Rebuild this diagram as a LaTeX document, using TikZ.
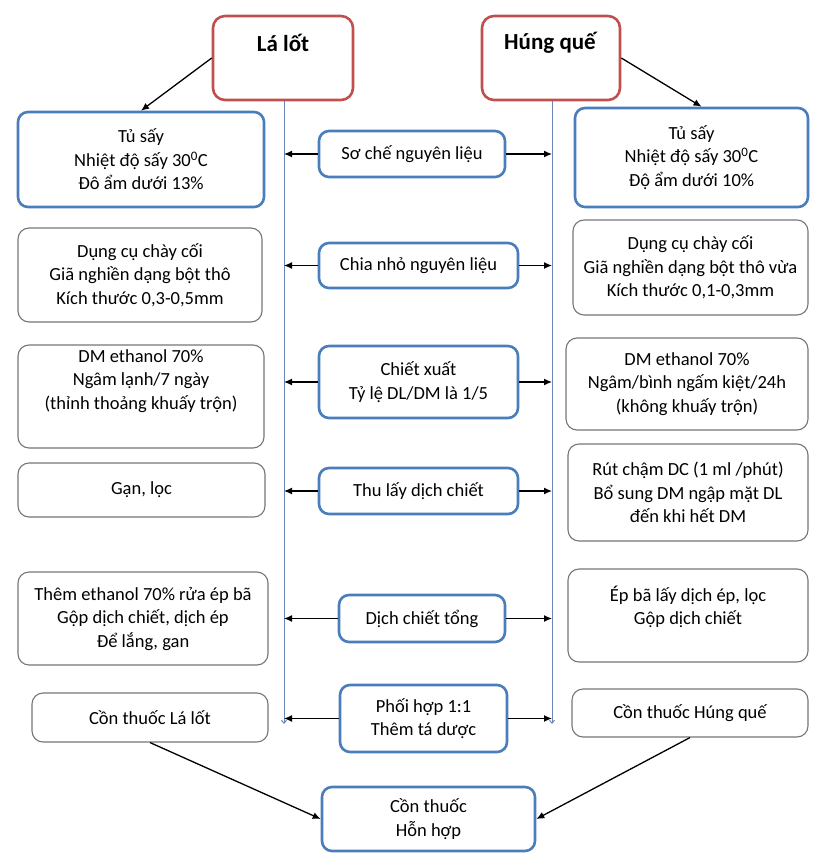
\documentclass[tikz,border=0pt]{standalone}
\usepackage{fontspec}
\setmainfont{Carlito}
\usetikzlibrary{arrows.meta}
\definecolor{redb}{RGB}{192,80,77}
\definecolor{blueb}{RGB}{74,126,187}
\definecolor{greyb}{RGB}{118,118,118}
\definecolor{vline}{RGB}{105,135,182}
\newcommand\bx[7]{\node[#1, minimum width={#5-#3}, minimum height={#6-#4}] (#2) at ({(#3+#5)/2},{(#4+#6)/2}) {#7};}
\begin{document}
\begin{tikzpicture}[x=1pt,y=-1pt,
  every node/.style={font=\fontsize{18.5}{23.5}\selectfont, align=center, inner sep=0pt},
  titletext/.style={font=\fontsize{23}{27}\selectfont\bfseries},
  tbox/.style={draw=redb, line width=2.6pt, rounded corners=12pt, fill=white},
  bbox/.style={draw=blueb, line width=2.6pt, rounded corners=10pt, fill=white},
  gbox/.style={draw=greyb, line width=1.1pt, rounded corners=11pt, fill=white},
  arr/.style={-{Latex[length=8pt,width=7pt]}, line width=1.3pt, black},
  vl/.style={draw=vline, line width=1pt, -{Straight Barb[length=3pt,width=5pt]}},
]
\useasboundingbox (0,0) rectangle (813,853);

% title boxes
\bx{tbox}{lalot}{213}{16}{353}{100}{}
\bx{tbox}{hung}{482}{16}{620}{100}{}
\node[titletext] (lalott) at (283,43) {Lá lốt};
\node[titletext] (hungt) at (550,43) {Húng quế};

\coordinate (vLend) at (284,724);
\coordinate (vRend) at (552,724);
\draw[vl] (lalot.south -| vLend) -- (vLend);
\draw[vl] (hung.south -| vRend) -- (vRend);

% row 1
\bx{bbox}{L1}{18}{112}{264}{207}{Tủ sấy\\Nhiệt độ sấy 30\textsuperscript{0}C\\Đô ẩm dưới 13\%}
\bx{bbox}{C1}{319}{131}{505}{177}{Sơ chế nguyên liệu}
\bx{bbox}{R1}{575}{108}{808}{207}{Tủ sấy\\Nhiệt độ sấy 30\textsuperscript{0}C\\Độ ẩm dưới 10\%}
% row 2
\bx{gbox}{L2}{18}{228}{262}{322}{Dụng cụ chày cối\\Giã nghiền dạng bột thô\\Kích thước 0,3-0,5mm}
\bx{bbox}{C2}{319}{243}{518}{288}{Chia nhỏ nguyên liệu}
\bx{gbox}{R2}{573}{220}{808}{315}{Dụng cụ chày cối\\Giã nghiền dạng bột thô vừa\\Kích thước 0,1-0,3mm}
% row 3
\bx{gbox}{L3}{18}{345}{264}{448}{}
\node (L3t) at (141,381) {DM ethanol 70\%\\Ngâm lạnh/7 ngày\\(thỉnh thoảng khuấy trộn)};
\bx{bbox}{C3}{319}{346}{518}{418}{Chiết xuất\\Tỷ lệ DL/DM là 1/5}
\bx{gbox}{R3}{566}{338}{808}{430}{DM ethanol 70\%\\Ngâm/bình ngấm kiệt/24h\\(không khuấy trộn)}
% row 4
\bx{gbox}{L4}{18}{463}{265}{517}{Gạn, lọc}
\bx{bbox}{C4}{319}{468}{518}{514}{Thu lấy dịch chiết}
\bx{gbox}{R4}{568}{444}{808}{541}{Rút chậm DC (1 ml /phút)\\Bổ sung DM ngập mặt DL\\đến khi hết DM}
% row 5
\bx{gbox}{L5}{18}{572}{268}{665}{Thêm ethanol 70\% rửa ép bã\\Gộp dịch chiết, dịch ép\\Để lắng, gan}
\bx{bbox}{C5}{339}{595}{505}{642}{Dịch chiết tổng}
\bx{gbox}{R5}{568}{569}{808}{662}{}
\node (R5t) at (688,607) {Ép bã lấy dịch ép, lọc\\Gộp dịch chiết};
% row 6
\bx{gbox}{L6}{32}{693}{268}{742}{Cồn thuốc Lá lốt}
\bx{bbox}{C6}{340}{685}{507}{752}{Phối hợp 1:1\\Thêm tá dược}
\bx{gbox}{R6}{572}{689}{808}{737}{Cồn thuốc Húng quế}
% final
\bx{bbox}{mix}{322}{787}{535}{851}{Cồn thuốc\\Hỗn hợp}

% arrows
\draw[arr] (lalot.west) -- (L1.north);
\draw[arr] (hung.east) -- ([xshift=10pt]R1.north);
\foreach \c in {C1,C2,C3,C4,C5,C6}{
  \draw[arr] (\c.west) -- (\c.west -| vLend);
  \draw[arr] (\c.east) -- (\c.east -| vRend);
}
\draw[arr] (L6.south) -- (mix.west);
\draw[arr] (R6.south) -- (mix.east);
\end{tikzpicture}
\end{document}
